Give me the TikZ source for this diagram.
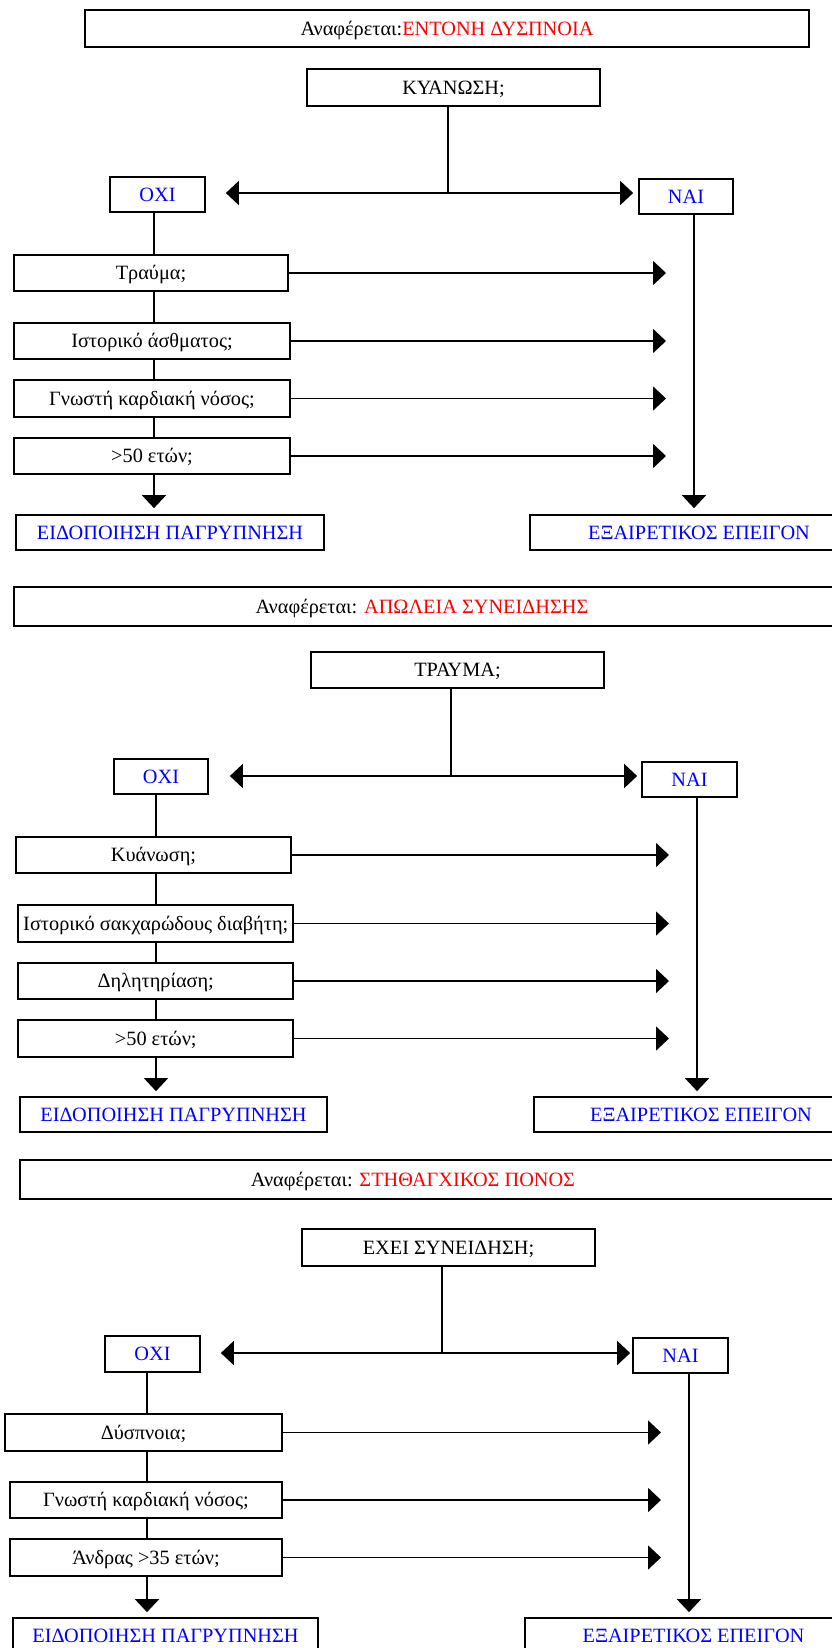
\documentclass[tikz,border=0pt]{standalone}
\usepackage{fontspec}
\setmainfont{Liberation Serif}
\usetikzlibrary{arrows.meta}
\definecolor{txtred}{RGB}{255,0,0}
\definecolor{txtblue}{RGB}{0,0,255}
\begin{document}
\begin{tikzpicture}[x=1pt,y=-1pt,
  box/.style={draw, line width=1.7pt, inner sep=0pt, font=\fontsize{20.3}{23}\selectfont, text height=13.4pt, text depth=0pt},
  hdrtxt/.style={inner sep=0pt, font=\fontsize{20.3}{23}\selectfont, text height=13.4pt, text depth=0pt},
  ans/.style={box, text=txtblue},
  outc/.style={box, text=txtblue},
  link/.style={line width=1.7pt},
  arr/.style={link, -{Triangle[length=13pt,width=24pt]}},
]
\useasboundingbox (0,0) rectangle (831,1648);

% ---------------- Section 1 ----------------
\node[box, minimum width=724pt, minimum height=37pt] (h1) at (447,28.5) {Αναφέρεται:\textcolor{txtred}{ΕΝΤΟΝΗ ΔΥΣΠΝΟΙΑ}};
\node[box, minimum width=293pt, minimum height=37pt] (q1) at (453.5,87.5) {ΚΥΑΝΩΣΗ;};
\node[ans, minimum width=95pt, minimum height=35pt] (o1) at (157.5,194.5) {ΟΧΙ};
\node[ans, minimum width=94pt, minimum height=35pt] (n1) at (686,196.5) {ΝΑΙ};
\node[box, minimum width=274pt, minimum height=36pt] (a1) at (151,273) {Τραύμα;};
\node[box, minimum width=276pt, minimum height=36pt] (a2) at (152,341) {Ιστορικό άσθματος;};
\node[box, minimum width=276pt, minimum height=37pt] (a3) at (152,398.5) {Γνωστή καρδιακή νόσος;};
\node[box, minimum width=276pt, minimum height=36pt] (a4) at (152,456) {>50 ετών;};
\node[outc, minimum width=308pt, minimum height=35pt] (e1) at (170,532.5) {ΕΙΔΟΠΟΙΗΣΗ ΠΑΓΡΥΠΝΗΣΗ};
\node[outc, minimum width=338pt, minimum height=35pt] (x1) at (699,532.5) {ΕΞΑΙΡΕΤΙΚΟΣ ΕΠΕΙΓΟΝ};
\coordinate (j1) at (448,193);
\coordinate (L1) at (154,0);
\coordinate (R1) at (694,0);
\draw[link] (j1 |- q1.south) -- (j1);
\draw[arr, shorten >=20pt] (j1) -- (j1 -| o1.east);
\draw[arr, shorten >=5pt] (j1) -- (j1 -| n1.west);
\draw[link] (L1 |- o1.south) -- (L1 |- a1.north);
\draw[link] (L1 |- a1.south) -- (L1 |- a2.north);
\draw[link] (L1 |- a2.south) -- (L1 |- a3.north);
\draw[link] (L1 |- a3.south) -- (L1 |- a4.north);
\draw[arr, shorten >=6pt] (L1 |- a4.south) -- (L1 |- e1.north);
\draw[arr, shorten >=6pt] (R1 |- n1.south) -- (R1 |- x1.north);
\draw[arr, shorten >=28pt] (a1.east) -- (a1.east -| R1);
\draw[arr, shorten >=28pt] (a2.east) -- (a2.east -| R1);
\draw[arr, shorten >=28pt] (a3.east) -- (a3.east -| R1);
\draw[arr, shorten >=28pt] (a4.east) -- (a4.east -| R1);

% ---------------- Section 2 ----------------
\node[box, minimum width=826pt, minimum height=39pt,
  label={[hdrtxt, xshift=-5pt]center:Αναφέρεται: \textcolor{txtred}{ΑΠΩΛΕΙΑ ΣΥΝΕΙΔΗΣΗΣ}}] (h2) at (427,606.5) {};
\node[box, minimum width=293pt, minimum height=36pt] (q2) at (457.5,670) {ΤΡΑΥΜΑ;};
\node[ans, minimum width=94pt, minimum height=35pt] (o2) at (161,776.5) {ΟΧΙ};
\node[ans, minimum width=95pt, minimum height=35pt] (n2) at (689.5,779.5) {ΝΑΙ};
\node[box, minimum width=275pt, minimum height=36pt] (b1) at (153.5,855) {Κυάνωση;};
\node[box, minimum width=275pt, minimum height=37pt] (b2) at (155.75,923.5) {Ιστορικό σακχαρώδους διαβήτη;};
\node[box, minimum width=275pt, minimum height=36pt] (b3) at (155.75,981) {Δηλητηρίαση;};
\node[box, minimum width=275pt, minimum height=37pt] (b4) at (155.75,1038.5) {>50 ετών;};
\node[outc, minimum width=307pt, minimum height=35pt] (e2) at (173.5,1114.5) {ΕΙΔΟΠΟΙΗΣΗ ΠΑΓΡΥΠΝΗΣΗ};
\node[outc, minimum width=334pt, minimum height=35pt] (x2) at (701,1114.5) {ΕΞΑΙΡΕΤΙΚΟΣ ΕΠΕΙΓΟΝ};
\coordinate (j2) at (451,776);
\coordinate (L2) at (156,0);
\coordinate (R2) at (697,0);
\draw[link] (j2 |- q2.south) -- (j2);
\draw[arr, shorten >=21pt] (j2) -- (j2 -| o2.east);
\draw[arr, shorten >=4pt] (j2) -- (j2 -| n2.west);
\draw[link] (L2 |- o2.south) -- (L2 |- b1.north);
\draw[link] (L2 |- b1.south) -- (L2 |- b2.north);
\draw[link] (L2 |- b2.south) -- (L2 |- b3.north);
\draw[link] (L2 |- b3.south) -- (L2 |- b4.north);
\draw[arr, shorten >=5pt] (L2 |- b4.south) -- (L2 |- e2.north);
\draw[arr, shorten >=5pt] (R2 |- n2.south) -- (R2 |- x2.north);
\draw[arr, shorten >=28pt] (b1.east) -- (b1.east -| R2);
\draw[arr, shorten >=28pt] (b2.east) -- (b2.east -| R2);
\draw[arr, shorten >=28pt] (b3.east) -- (b3.east -| R2);
\draw[arr, shorten >=28pt] (b4.east) -- (b4.east -| R2);

% ---------------- Section 3 ----------------
\node[box, minimum width=820pt, minimum height=39pt,
  label={[hdrtxt, xshift=-17pt]center:Αναφέρεται: \textcolor{txtred}{ΣΤΗΘΑΓΧΙΚΟΣ ΠΟΝΟΣ}}] (h3) at (430,1179.5) {};
\node[box, minimum width=293pt, minimum height=37pt] (q3) at (448.5,1247.5) {ΕΧΕΙ ΣΥΝΕΙΔΗΣΗ;};
\node[ans, minimum width=95pt, minimum height=36pt] (o3) at (152.5,1354) {ΟΧΙ};
\node[ans, minimum width=95pt, minimum height=35pt] (n3) at (680.5,1355.5) {ΝΑΙ};
\node[box, minimum width=277pt, minimum height=37pt] (c1) at (143.5,1432.5) {Δύσπνοια;};
\node[box, minimum width=272pt, minimum height=36pt] (c2) at (146,1500) {Γνωστή καρδιακή νόσος;};
\node[box, minimum width=272pt, minimum height=37pt] (c3) at (146,1557.5) {Άνδρας >35 ετών;};
\node[outc, minimum width=305pt, minimum height=35pt] (e3) at (165.5,1635.5) {ΕΙΔΟΠΟΙΗΣΗ ΠΑΓΡΥΠΝΗΣΗ};
\node[outc, minimum width=337pt, minimum height=35pt] (x3) at (693.5,1635.5) {ΕΞΑΙΡΕΤΙΚΟΣ ΕΠΕΙΓΟΝ};
\coordinate (j3) at (442,1353);
\coordinate (L3) at (147,0);
\coordinate (R3) at (689,0);
\draw[link] (j3 |- q3.south) -- (j3);
\draw[arr, shorten >=20pt] (j3) -- (j3 -| o3.east);
\draw[arr, shorten >=2pt] (j3) -- (j3 -| n3.west);
\draw[link] (L3 |- o3.south) -- (L3 |- c1.north);
\draw[link] (L3 |- c1.south) -- (L3 |- c2.north);
\draw[link] (L3 |- c2.south) -- (L3 |- c3.north);
\draw[arr, shorten >=5pt] (L3 |- c3.south) -- (L3 |- e3.north);
\draw[arr, shorten >=5pt] (R3 |- n3.south) -- (R3 |- x3.north);
\draw[arr, shorten >=28pt] (c1.east) -- (c1.east -| R3);
\draw[arr, shorten >=28pt] (c2.east) -- (c2.east -| R3);
\draw[arr, shorten >=28pt] (c3.east) -- (c3.east -| R3);
\end{tikzpicture}
\end{document}
